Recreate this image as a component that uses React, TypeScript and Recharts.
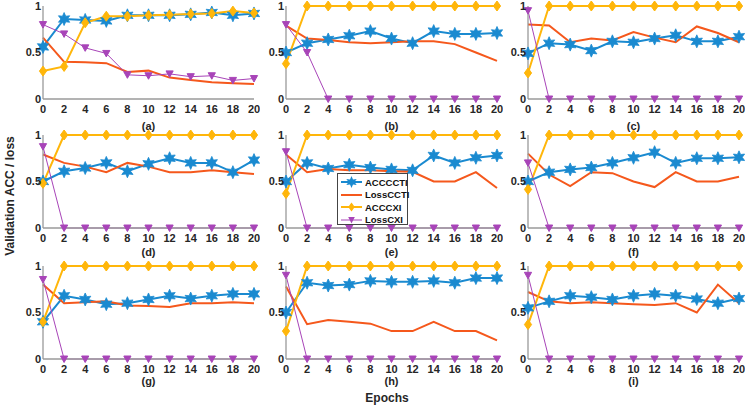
import { LineChart, Line, XAxis, YAxis, Legend } from 'recharts';

const epochs = [0, 2, 4, 6, 8, 10, 12, 14, 16, 18, 20];
const panelTags = ['(a)', '(b)', '(c)', '(d)', '(e)', '(f)', '(g)', '(h)', '(i)'];
const yTicks = [0, 0.5, 1];

// one row per panel, a..i
const accCcti = [
  [0.56, 0.86, 0.85, 0.84, 0.9, 0.9, 0.9, 0.91, 0.93, 0.9, 0.92],
  [0.5, 0.6, 0.64, 0.68, 0.73, 0.65, 0.6, 0.73, 0.7, 0.7, 0.71],
  [0.49, 0.6, 0.585, 0.52, 0.62, 0.61, 0.65, 0.685, 0.62, 0.62, 0.67],
  [0.5, 0.61, 0.645, 0.7, 0.61, 0.69, 0.75, 0.7, 0.7, 0.6, 0.73],
  [0.5, 0.7, 0.64, 0.68, 0.65, 0.63, 0.62, 0.78, 0.7, 0.755, 0.78],
  [0.5, 0.6, 0.63, 0.65, 0.7, 0.755, 0.815, 0.7, 0.75, 0.75, 0.76],
  [0.4, 0.68, 0.64, 0.59, 0.6, 0.64, 0.68, 0.65, 0.68, 0.7, 0.7],
  [0.5, 0.82, 0.79, 0.8, 0.84, 0.83, 0.83, 0.84, 0.82, 0.87, 0.87],
  [0.55, 0.62, 0.68, 0.665, 0.64, 0.68, 0.7, 0.68, 0.645, 0.6, 0.65],
];
const lossCcti = [
  [0.66, 0.4, 0.395, 0.385, 0.29, 0.305, 0.23, 0.205, 0.18, 0.17, 0.16],
  [0.79, 0.65, 0.635, 0.61, 0.6, 0.61, 0.62, 0.62, 0.59, 0.5, 0.41],
  [0.8, 0.79, 0.61, 0.65, 0.63, 0.72, 0.66, 0.61, 0.78, 0.71, 0.61],
  [0.79, 0.7, 0.66, 0.6, 0.7, 0.66, 0.6, 0.6, 0.62, 0.6, 0.58],
  [0.79, 0.6, 0.635, 0.62, 0.62, 0.61, 0.605, 0.5, 0.5, 0.6, 0.43],
  [0.8, 0.575, 0.45, 0.6, 0.59, 0.5, 0.44, 0.6, 0.5, 0.5, 0.55],
  [0.8, 0.6, 0.61, 0.62, 0.575, 0.57, 0.56, 0.6, 0.6, 0.61, 0.6],
  [0.78, 0.375, 0.42, 0.4, 0.38, 0.3, 0.3, 0.4, 0.3, 0.3, 0.2],
  [0.72, 0.62, 0.6, 0.61, 0.6, 0.59, 0.58, 0.6, 0.5, 0.8, 0.6],
];
const accCxi = [
  [0.3, 0.35, 0.82, 0.89, 0.89, 0.9, 0.905, 0.915, 0.92, 0.945, 0.925],
  [0.38, 1, 1, 1, 1, 1, 1, 1, 1, 1, 1],
  [0.28, 1, 1, 1, 1, 1, 1, 1, 1, 1, 1],
  [0.48, 1, 1, 1, 1, 1, 1, 1, 1, 1, 1],
  [0.37, 1, 1, 1, 1, 1, 1, 1, 1, 1, 1],
  [0.415, 1, 1, 1, 1, 1, 1, 1, 1, 1, 1],
  [0.4, 1, 1, 1, 1, 1, 1, 1, 1, 1, 1],
  [0.3, 1, 1, 1, 1, 1, 1, 1, 1, 1, 1],
  [0.37, 1, 1, 1, 1, 1, 1, 1, 1, 1, 1],
];
const lossCxi = [
  [0.8, 0.7, 0.55, 0.49, 0.26, 0.25, 0.27, 0.24, 0.25, 0.2, 0.22],
  [0.8, 0.5, 0, 0, 0, 0, 0, 0, 0, 0, 0],
  [0.95, 0, 0, 0, 0, 0, 0, 0, 0, 0, 0],
  [0.875, 0, 0, 0, 0, 0, 0, 0, 0, 0, 0],
  [0.82, 0, 0, 0, 0, 0, 0, 0, 0, 0, 0],
  [0.7, 0, 0, 0, 0, 0, 0, 0, 0, 0, 0],
  [0.855, 0, 0, 0, 0, 0, 0, 0, 0, 0, 0],
  [0.9, 0, 0, 0, 0, 0, 0, 0, 0, 0, 0],
  [0.9, 0, 0, 0, 0, 0, 0, 0, 0, 0, 0],
];

const BLUE = '#1a8ad0';
const ORANGE = '#f5581c';
const YELLOW = '#ffb60a';
const PURPLE = '#a844b8';
const AXIS = '#9a9a9a';
const FONT = '"Liberation Sans", Arial, sans-serif';

const colLeft = [43, 286, 528];
const rowTop = [6, 135, 266];
// (a)/(d)/(g) labels sit a bit closer to the axis on each lower row
const tagOffset = [3, 6, 8];
const PW = 211;
const PH = 93;

const hexPoints = (cx: number, cy: number, r: number) => {
  const pts: string[] = [];
  for (let i = 0; i < 12; i++) {
    const a = (Math.PI / 6) * i - Math.PI / 2;
    const rr = i % 2 === 0 ? r : r * 0.5;
    pts.push(`${cx + rr * Math.cos(a)},${cy + rr * Math.sin(a)}`);
  }
  return pts.join(' ');
};

const StarDot = (p: any) => {
  if (p.cx == null || p.cy == null) return null;
  return <polygon key={p.index} points={hexPoints(p.cx, p.cy, 6.5)} fill={BLUE} stroke={BLUE} strokeWidth={0.8} />;
};
const DiamondDot = (p: any) => {
  if (p.cx == null || p.cy == null) return null;
  const { cx, cy } = p;
  return <polygon key={p.index} points={`${cx},${cy - 5} ${cx + 3.6},${cy} ${cx},${cy + 5} ${cx - 3.6},${cy}`} fill={YELLOW} stroke={YELLOW} />;
};
const TriDot = (p: any) => {
  if (p.cx == null || p.cy == null) return null;
  const { cx, cy } = p;
  return <polygon key={p.index} points={`${cx - 3.6},${cy - 3} ${cx + 3.6},${cy - 3} ${cx},${cy + 3.5}`} fill={PURPLE} stroke={PURPLE} />;
};

const legendItems = [
  { name: 'ACCCCTI', color: BLUE, w: 2, mark: 'star' },
  { name: 'LossCCTI', color: ORANGE, w: 2, mark: 'none' },
  { name: 'ACCCXI', color: YELLOW, w: 2, mark: 'diamond' },
  { name: 'LossCXI', color: PURPLE, w: 1, mark: 'tri' },
];

const LegendBox = () => (
  <div style={{ background: '#fff', border: '1px solid #444', width: 71, height: 52, boxSizing: 'border-box', padding: '2px 0 0 2px', lineHeight: 1 }}>
    {legendItems.map((it) => (
      <div key={it.name} style={{ display: 'flex', alignItems: 'center', height: 12.5 }}>
        <svg width={23} height={12} style={{ flex: 'none' }}>
          <line x1={1} y1={6} x2={22} y2={6} stroke={it.color} strokeWidth={it.w} />
          {it.mark === 'star' && <polygon points={hexPoints(11.5, 6, 6)} fill={it.color} />}
          {it.mark === 'diamond' && <polygon points="11.5,1.5 14.8,6 11.5,10.5 8.2,6" fill={it.color} />}
          {it.mark === 'tri' && <polygon points="8.2,3 14.8,3 11.5,9.5" fill={it.color} />}
        </svg>
        <span style={{ fontFamily: FONT, fontSize: 9.5, fontWeight: 'bold', color: '#111', marginLeft: 2, whiteSpace: 'nowrap' }}>{it.name}</span>
      </div>
    ))}
  </div>
);

const tickStyle = { fontFamily: FONT, fontSize: 11, fontWeight: 'bold' as const, fill: '#262626' };

const Panel = ({ idx }: { idx: number }) => {
  const row = Math.floor(idx / 3);
  const left = colLeft[idx % 3];
  const top = rowTop[row];
  const rows = epochs.map((e, i) => ({
    epoch: e,
    ACCCCTI: accCcti[idx][i],
    LossCCTI: lossCcti[idx][i],
    ACCCXI: accCxi[idx][i],
    LossCXI: lossCxi[idx][i],
  }));
  return (
    <div style={{ position: 'absolute', left: left - 30, top: top - 6 }}>
      <LineChart width={PW + 36} height={PH + 6 + 34} data={rows} margin={{ top: 6, right: 6, left: 0, bottom: 0 }}>
        <XAxis
          xAxisId="b"
          dataKey="epoch"
          type="number"
          domain={[0, 20]}
          ticks={epochs}
          height={34}
          axisLine={{ stroke: AXIS, strokeWidth: 1.3 }}
          tickLine={false}
          tickSize={4}
          tickMargin={2}
          tick={tickStyle}
          interval={0}
          label={{ value: panelTags[idx], position: 'insideBottom', offset: tagOffset[row], style: { ...tickStyle } }}
        />
        <XAxis xAxisId="t" orientation="top" type="number" domain={[0, 20]} height={0} tick={false} tickLine={false} axisLine={{ stroke: AXIS, strokeWidth: 1.3 }} />
        <YAxis
          yAxisId="l"
          type="number"
          domain={[0, 1]}
          ticks={yTicks}
          width={30}
          axisLine={{ stroke: AXIS, strokeWidth: 1.3 }}
          tickLine={false}
          tickSize={2}
          tickMargin={0}
          tick={tickStyle}
          interval={0}
        />
        <YAxis yAxisId="r" orientation="right" type="number" domain={[0, 1]} width={0} tick={false} tickLine={false} axisLine={{ stroke: AXIS, strokeWidth: 1.3 }} />
        <Line xAxisId="b" yAxisId="l" type="linear" dataKey="ACCCCTI" stroke={BLUE} strokeWidth={2} dot={StarDot} isAnimationActive={false} />
        <Line xAxisId="b" yAxisId="l" type="linear" dataKey="LossCCTI" stroke={ORANGE} strokeWidth={2} dot={false} isAnimationActive={false} />
        <Line xAxisId="b" yAxisId="l" type="linear" dataKey="ACCCXI" stroke={YELLOW} strokeWidth={2} dot={DiamondDot} isAnimationActive={false} />
        <Line xAxisId="b" yAxisId="l" type="linear" dataKey="LossCXI" stroke={PURPLE} strokeWidth={1} dot={TriDot} isAnimationActive={false} />
        {idx === 4 && (
          <Legend
            layout="vertical"
            align="center"
            verticalAlign="middle"
            content={() => <LegendBox />}
            wrapperStyle={{ left: 337 - (left - 30), top: 173 - (top - 6), width: 71, height: 52 }}
          />
        )}
      </LineChart>
    </div>
  );
};

export default function App() {
  return (
    <div style={{ position: 'absolute', left: 0, top: 0, width: 745, height: 406, background: '#fff', overflow: 'hidden' }}>
      {panelTags.map((_, i) => (
        <Panel key={i} idx={i} />
      ))}
      <div
        style={{
          position: 'absolute',
          left: 10,
          top: 196,
          transform: 'translate(-50%, -50%) rotate(-90deg)',
          whiteSpace: 'nowrap',
          fontFamily: FONT,
          fontSize: 12,
          fontWeight: 'bold',
          color: '#262626',
        }}
      >
        Validation ACC / loss
      </div>
      <div
        style={{
          position: 'absolute',
          left: 387,
          top: 398,
          transform: 'translate(-50%, -50%)',
          whiteSpace: 'nowrap',
          fontFamily: FONT,
          fontSize: 12,
          fontWeight: 'bold',
          color: '#262626',
        }}
      >
        Epochs
      </div>
    </div>
  );
}
